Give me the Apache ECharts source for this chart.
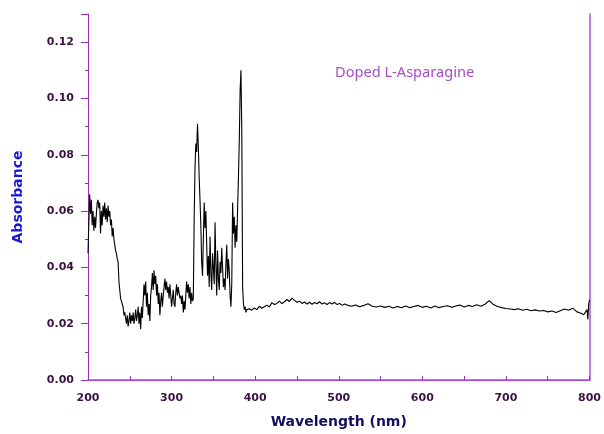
<!DOCTYPE html>
<html>
<head>
<meta charset="utf-8">
<script src="https://cdn.jsdelivr.net/npm/echarts@6/dist/echarts.min.js"></script>
<style>
  html, body { margin: 0; padding: 0; background: #fff; }
  #chart { width: 604px; height: 434px; }
</style>
</head>
<body>
<div id="chart"></div>
<script>
// wavelength (nm) and absorbance
const wavelength = [
  200, 201, 202, 203, 204, 205, 206, 207, 208, 209, 210, 211, 212, 213, 214, 215, 216, 217, 218, 219,
  220, 221, 222, 223, 224, 225, 226, 227, 228, 229, 230, 231, 232, 233, 234, 235, 236, 237, 238, 239,
  240, 241, 242, 243, 244, 245, 246, 247, 248, 249, 250, 251, 252, 253, 254, 255, 256, 257, 258, 259,
  260, 261, 262, 263, 264, 265, 266, 267, 268, 269, 270, 271, 272, 273, 274, 275, 276, 277, 278, 279,
  280, 281, 282, 283, 284, 285, 286, 287, 288, 289, 290, 291, 292, 293, 294, 295, 296, 297, 298, 299,
  300, 301, 302, 303, 304, 305, 306, 307, 308, 309, 310, 311, 312, 313, 314, 315, 316, 317, 318, 319,
  320, 321, 322, 323, 324, 325, 326, 327, 328, 329, 330, 331, 332, 333, 334, 335, 336, 337, 338, 339,
  340, 341, 342, 343, 344, 345, 346, 347, 348, 349, 350, 351, 352, 353, 354, 355, 356, 357, 358, 359,
  360, 361, 362, 363, 364, 365, 366, 367, 368, 369, 370, 371, 372, 373, 374, 375, 376, 377, 378, 379,
  380, 381, 382, 383, 384, 385, 386, 387, 388, 389, 390,
  393, 396, 399, 402, 405, 408, 411, 414, 417, 420, 423, 426, 429, 432, 435, 438, 441, 444, 447, 450,
  453, 456, 459, 462, 465, 468, 471, 474, 477, 480, 483, 486, 489, 492, 495, 498, 501, 504, 507, 510,
  515, 520, 525, 530, 535, 540, 545, 550, 555, 560, 565, 570, 575, 580, 585, 590,
  595, 600, 605, 610, 615, 620, 625, 630, 635, 640, 645, 650, 655, 660, 665, 670, 675, 680, 685, 690,
  695, 700, 705, 710, 715, 720, 725, 730, 735, 740, 745, 750, 755, 760, 765, 770, 775, 780, 785, 790,
  793, 795, 797, 798, 799, 800
];
const absorbance = [
  0.045, 0.056, 0.066, 0.059, 0.064, 0.055, 0.060, 0.053, 0.058, 0.054, 0.059, 0.063, 0.064, 0.061, 0.063, 0.052, 0.060, 0.055, 0.062, 0.058,
  0.063, 0.057, 0.061, 0.056, 0.062, 0.058, 0.060, 0.055, 0.057, 0.051, 0.054, 0.050, 0.048, 0.046, 0.045, 0.043, 0.042, 0.035, 0.032, 0.029,
  0.028, 0.027, 0.026, 0.023, 0.024, 0.022, 0.020, 0.023, 0.019, 0.021, 0.024, 0.020, 0.023, 0.021, 0.024, 0.020, 0.022, 0.025, 0.021, 0.023,
  0.026, 0.020, 0.024, 0.018, 0.026, 0.022, 0.028, 0.034, 0.030, 0.035, 0.026, 0.031, 0.023, 0.027, 0.021, 0.030, 0.033, 0.038, 0.032, 0.039,
  0.034, 0.037, 0.030, 0.034, 0.027, 0.031, 0.023, 0.028, 0.031, 0.026, 0.030, 0.033, 0.036, 0.032, 0.035, 0.031, 0.033, 0.029, 0.034, 0.030,
  0.026, 0.029, 0.032, 0.027, 0.026, 0.031, 0.034, 0.030, 0.033, 0.031, 0.029, 0.030, 0.027, 0.030, 0.024, 0.028, 0.025, 0.030, 0.035, 0.031,
  0.034, 0.029, 0.033, 0.027, 0.031, 0.028, 0.029, 0.057, 0.075, 0.084, 0.081, 0.091, 0.083, 0.072, 0.064, 0.055, 0.042, 0.037, 0.050, 0.063,
  0.054, 0.060, 0.048, 0.037, 0.044, 0.033, 0.051, 0.038, 0.032, 0.045, 0.040, 0.034, 0.056, 0.041, 0.030, 0.046, 0.036, 0.032, 0.042, 0.038,
  0.047, 0.040, 0.033, 0.036, 0.032, 0.041, 0.048, 0.036, 0.043, 0.039, 0.030, 0.026, 0.034, 0.063, 0.052, 0.058, 0.047, 0.055, 0.049, 0.061,
  0.072, 0.085, 0.103, 0.110, 0.088, 0.033, 0.027, 0.025, 0.026, 0.024, 0.025,
  0.0253, 0.0248, 0.0256, 0.0250, 0.0262, 0.0255, 0.0260, 0.0266, 0.0259, 0.0275, 0.0268, 0.0272, 0.0280, 0.0271, 0.0278, 0.0286, 0.0279, 0.0291, 0.0283, 0.0276,
  0.0280, 0.0272, 0.0277, 0.0270, 0.0276, 0.0269, 0.0275, 0.0271, 0.0278, 0.0270, 0.0274, 0.0268, 0.0275, 0.0270, 0.0276, 0.0268, 0.0272, 0.0265, 0.0270, 0.0266,
  0.0262, 0.0266, 0.0260, 0.0265, 0.0271, 0.0262, 0.0259, 0.0263, 0.0258, 0.0262, 0.0256, 0.0261, 0.0257, 0.0263, 0.0257, 0.0261,
  0.0265, 0.0258, 0.0262, 0.0256, 0.0263, 0.0257, 0.0261, 0.0264, 0.0258, 0.0263, 0.0266, 0.0259, 0.0265, 0.0261, 0.0267, 0.0262, 0.0269, 0.0282, 0.0268, 0.0261,
  0.0257, 0.0254, 0.0252, 0.0250, 0.0253, 0.0248, 0.0251, 0.0246, 0.0249, 0.0245, 0.0247, 0.0242, 0.0245, 0.0240, 0.0246, 0.0252, 0.0248, 0.0255, 0.0242, 0.0237,
  0.0232, 0.0226, 0.0250, 0.0215, 0.0270, 0.0285
];
const xTicks = [200, 300, 400, 500, 600, 700, 800];
const yTicks = [0.00, 0.02, 0.04, 0.06, 0.08, 0.10, 0.12];
const label = 'Doped L-Asparagine';

const chart = echarts.init(document.getElementById('chart'), null, { renderer: 'canvas' });

const axisPurple = '#9a2fb0';
const tickText = {
  color: '#3a1242',
  fontFamily: 'DejaVu Sans, sans-serif',
  fontWeight: 'bold',
  fontSize: 11
};

chart.setOption({
  animation: false,
  backgroundColor: '#fff',
  grid: { left: 88, right: 13, top: 14, bottom: 51 },
  graphic: [{
    type: 'text',
    left: 335,
    top: 65,
    style: {
      text: label,
      fill: '#a64dc4',
      font: '14.6px "Noto Sans", "Open Sans", sans-serif'
    }
  }],
  xAxis: [{
    type: 'value',
    min: xTicks[0],
    max: xTicks[xTicks.length - 1],
    interval: 100,
    name: 'Wavelength (nm)',
    nameLocation: 'middle',
    nameGap: 35,
    nameTextStyle: {
      color: '#141060',
      fontFamily: 'DejaVu Sans, sans-serif',
      fontWeight: 'bold',
      fontSize: 14
    },
    axisLine: { lineStyle: { color: axisPurple, width: 1 } },
    axisTick: { inside: true, length: 4, lineStyle: { color: axisPurple } },
    minorTick: { show: true, splitNumber: 2, length: 4, lineStyle: { color: axisPurple } },
    axisLabel: Object.assign({ margin: 13 }, tickText),
    splitLine: { show: false }
  }, {
    type: 'value',
    position: 'top',
    min: xTicks[0],
    max: xTicks[xTicks.length - 1],
    axisLine: { show: true, lineStyle: { color: '#a64af0', width: 1.5 } },
    axisTick: { show: false },
    axisLabel: { show: false },
    splitLine: { show: false }
  }],
  yAxis: [{
    type: 'value',
    min: yTicks[0],
    max: 0.13,
    interval: 0.02,
    name: 'Absorbance',
    nameLocation: 'middle',
    nameRotate: 90,
    nameGap: 63,
    nameTextStyle: {
      color: '#1818d8',
      fontFamily: 'DejaVu Sans, sans-serif',
      fontWeight: 'bold',
      fontSize: 14
    },
    axisLine: { show: true, lineStyle: { color: axisPurple, width: 1 } },
    axisTick: { show: true, length: 7, lineStyle: { color: axisPurple } },
    minorTick: { show: true, splitNumber: 2, length: 3, lineStyle: { color: axisPurple } },
    axisLabel: Object.assign({
      margin: 14,
      showMaxLabel: false,
      formatter: v => v.toFixed(2)
    }, tickText),
    splitLine: { show: false }
  }, {
    type: 'value',
    position: 'right',
    min: yTicks[0],
    max: 0.13,
    axisLine: { show: true, lineStyle: { color: '#b050d0', width: 1.5 } },
    axisTick: { show: false },
    axisLabel: { show: false },
    splitLine: { show: false }
  }],
  series: [{
    type: 'line',
    data: wavelength.map((w, i) => [w, absorbance[i]]),
    showSymbol: false,
    lineStyle: { color: '#000', width: 1.1 },
    silent: true
  }]
});
</script>
</body>
</html>
